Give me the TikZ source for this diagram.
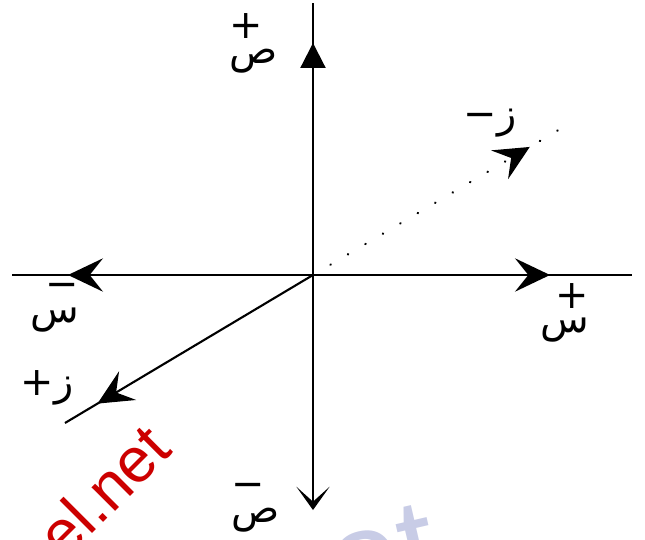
\documentclass[tikz,border=0pt]{standalone}
\usepackage{fontspec}
\newfontfamily\arabicfont[Script=Arabic]{DejaVu Sans}
\newfontfamily\markfont{Liberation Sans}
\TeXXeTstate=1
\usetikzlibrary{arrows.meta, decorations.markings}
\definecolor{inkblack}{RGB}{0,0,0}
\definecolor{wmred}{RGB}{204,0,0}
\definecolor{wmblue}{RGB}{200,204,230}
\tikzset{
  >=Stealth,
  axisline/.style={line width=1.8pt, inkblack},
  dotline/.style={line width=2pt, inkblack, line cap=round,
                  dash pattern=on 0.3pt off 17pt},
  midtri/.style={postaction={decorate}, decoration={markings,
      mark=at position #1 with {\arrow{Triangle[length=7.5mm, width=7.5mm]}}}},
  midbarb/.style={postaction={decorate, solid}, decoration={markings,
      mark=at position #1 with
      {\arrow{Stealth[length=10.5mm, width=10mm, inset=4mm]}}}},
  endbarb/.style={-{Stealth[length=7mm, width=10mm, inset=4.5mm]}},
  harf/.style={font=\arabicfont\fontsize{34}{21}\selectfont,
               inner sep=1pt, inkblack},
  wmark/.style={font=\markfont, inner sep=0},
}

\begin{document}
\begin{tikzpicture}

  \useasboundingbox (-9.39,-7.92) rectangle (9.96,8.25);
  \clip (-9.39,-7.92) rectangle (9.96,8.25);

  % ---- Watermarks ----
  \node[wmark, wmblue, font=\markfont\fontsize{110}{110}\selectfont,
        rotate=13, anchor=base west] (wmnet) at (-1.30,-10.45) {net};
  \node[wmark, wmred, font=\markfont\fontsize{54}{54}\selectfont,
        rotate=45, anchor=base west] (wmsite) at (-7.45,-8.60) {el.net};

  % ---- Axes ----
  \coordinate (O) at (0,0);
  \coordinate (ytop) at (0,8.16);
  \coordinate (ybot) at (0,-7.05);
  \coordinate (xleft) at (-9.03,0);
  \coordinate (xright) at (9.57,0);
  \coordinate (zlow) at (-7.44,-4.44);
  \coordinate (zup) at (7.77,4.59);

  \draw[axisline, midtri=0.853] (O) -- (ytop);
  \draw[axisline, endbarb] (O) -- (ybot);
  \draw[axisline, midbarb=0.814] (O) -- (xleft);
  \draw[axisline, midbarb=0.743] (O) -- (xright);
  \draw[axisline, midbarb=0.869] (O) -- (zlow);
  \draw[dotline, midbarb=0.837] (O) -- (zup);

  % ---- Labels ----
  \node[harf, align=left] (yplus) at (-1.77,6.95) {+\\\beginR ص\endR};
  \node[harf, align=left] (yminus) at (-1.71,-6.99) {−\\\beginR ص\endR};
  \node[harf, align=right] (xminus) at (-7.74,-0.98) {−\\\beginR س\endR};
  \node[harf, align=right] (xplus) at (7.56,-1.14) {+\\\beginR س\endR};
  \node[harf] (zplus) at (-7.98,-3.39) {\beginR ز+\endR};
  \node[harf] (zminus) at (5.31,4.56) {\beginR ز−\endR};

\end{tikzpicture}
\end{document}
